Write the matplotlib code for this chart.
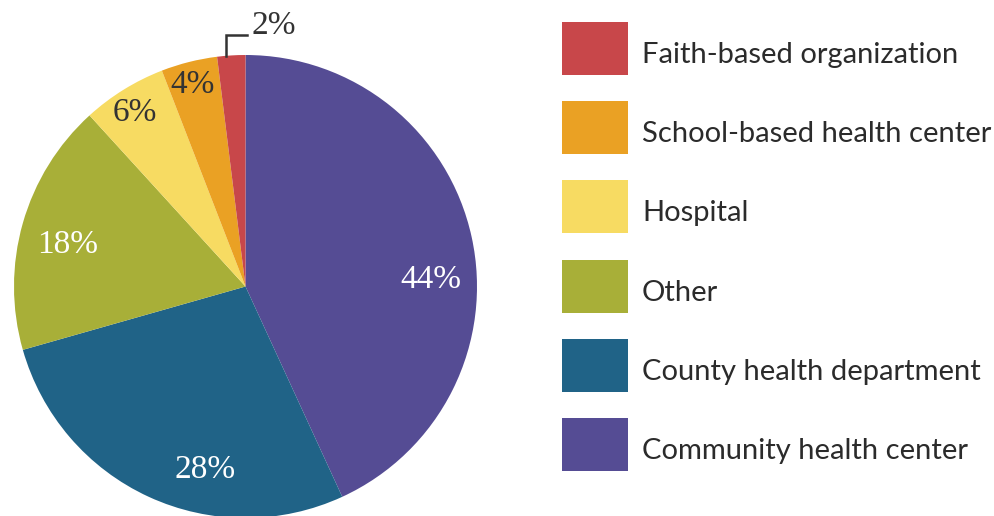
import matplotlib.pyplot as plt
from matplotlib.patches import Rectangle

# share of sites by type, drawn clockwise from 12 o'clock
labels = ["Community health center", "County health department", "Other",
          "Hospital", "School-based health center", "Faith-based organization"]
shares = [44, 28, 18, 6, 4, 2]
colors = ["#554C94", "#206387", "#A8AF38", "#F7DB62", "#EAA124", "#C8474A"]

# legend runs top to bottom in reverse order
legend_order = [5, 4, 3, 2, 1, 0]

# label spots (pie data units) and text colour per slice
label_xy = [(0.80, 0.03), (-0.175, -0.79), (-0.77, 0.18),
            (-0.48, 0.75), (-0.23, 0.87), (0.12, 1.125)]
label_colors = ["white", "white", "white", "#333333", "#333333", "#333333"]

W, H = 995, 516
fig = plt.figure(figsize=(W / 100, H / 100), dpi=100)

# pie: centre (245.5, 286.5) px, radius 231.5 px
cx, cy, r = 245.5, 286.5, 231.5
ax = fig.add_axes([(cx - r) / W, (H - cy - r) / H, 2 * r / W, 2 * r / H])
ax.pie(shares, colors=colors, startangle=90, counterclock=False, radius=1,
       wedgeprops=dict(linewidth=0))
ax.set_xlim(-1, 1)
ax.set_ylim(-1, 1)
for w in ax.patches:
    w.set_clip_on(False)

for v, (x, y), c in zip(shares, label_xy, label_colors):
    ax.text(x, y, f"{v}%", color=c, fontsize=24, family="Liberation Serif",
            ha="center", va="center", clip_on=False)

# leader for the smallest slice
px = lambda p: (p - cx) / r
py = lambda p: (cy - p) / r
ax.plot([px(226), px(226), px(247)], [py(56), py(35), py(35)],
        color="#333333", lw=1.8, clip_on=False, solid_joinstyle="miter")

# legend in pixel space
lg = fig.add_axes([0, 0, 1, 1])
lg.set_xlim(0, W)
lg.set_ylim(H, 0)
lg.axis("off")
for k, i in enumerate(legend_order):
    top = 22 + k * 79.2
    lg.add_patch(Rectangle((562, top), 66, 53, facecolor=colors[i], edgecolor="none"))
    lg.text(642, top + 41, labels[i], fontsize=21, family="Lato",
            color="#2B2B2B", va="baseline", ha="left")

fig.savefig("out.png", dpi=100)
